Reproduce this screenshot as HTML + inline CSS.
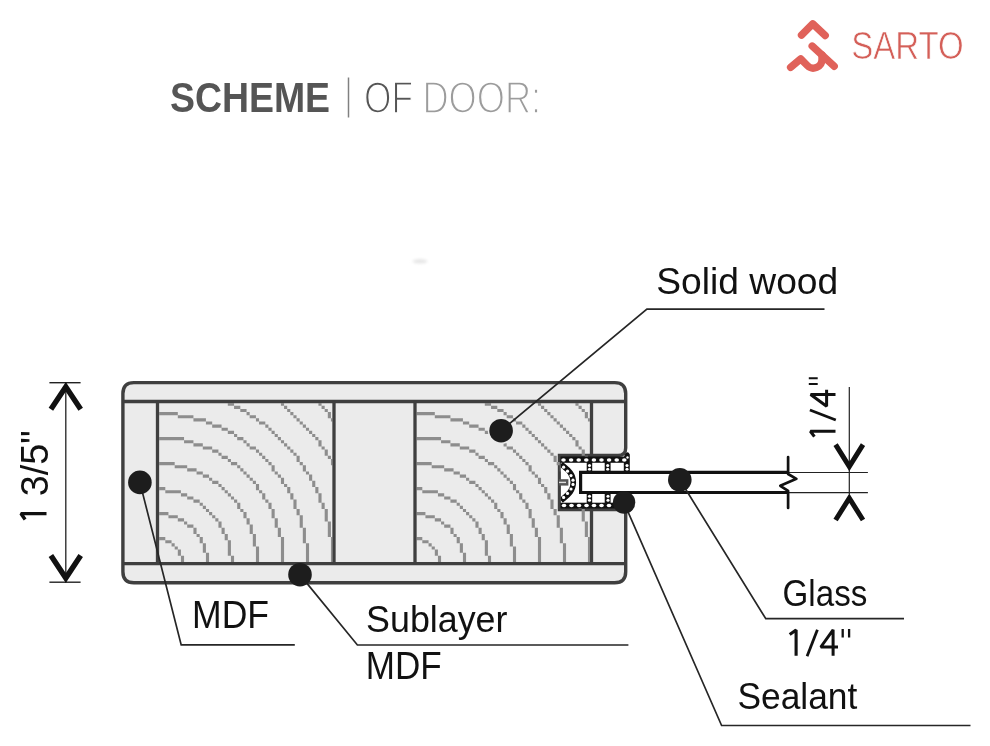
<!DOCTYPE html>
<html><head><meta charset="utf-8"><style>
html,body{margin:0;padding:0;background:#fff;width:990px;height:746px;overflow:hidden;position:relative}
</style></head><body><svg width="990" height="746" viewBox="0 0 990 746" style="position:absolute;left:0;top:0;will-change:transform">
<filter id="bl" x="-50%" y="-50%" width="200%" height="200%"><feGaussianBlur stdDeviation="1.6"/></filter>
<ellipse cx="420" cy="261.3" rx="7.5" ry="2" fill="#e4e4e4" filter="url(#bl)"/>
<text transform="matrix(0.37435 0 0 0.42113 169.977 111.579)" font-family="&quot;Liberation Sans&quot;, sans-serif" font-weight="bold" font-size="100" fill="#555">SCHEME</text>
<line x1="348.5" y1="77.5" x2="348.5" y2="117.5" stroke="#808080" stroke-width="1.5"/>
<text transform="matrix(0.35317 0 0 0.44328 364.028 112.843)" font-family="&quot;Liberation Sans&quot;, sans-serif" font-weight="normal" font-size="100" fill="#555" stroke="#fff" stroke-width="3.5">OF</text><text transform="matrix(0.36254 0 0 0.44328 422.375 112.843)" font-family="&quot;Liberation Sans&quot;, sans-serif" font-weight="normal" font-size="100" fill="#9c9c9c" stroke="#fff" stroke-width="3.5">DOOR:</text>
<g fill="none" stroke="#e0625a" stroke-width="7.4" stroke-linecap="round" stroke-linejoin="round">
<path d="M801.5 35.1 L812.7 23.8 L825.2 35.5"/>
<path d="M790.6 67.3 L800.7 58.8 L807.3 65.5 A8.6 8.6 0 0 0 822 59.5 L822 55"/>
<path d="M812.2 46.1 L834.2 66.25"/>
</g>
<text transform="matrix(0.33009 0 0 0.38986 851.219 58.900)" font-family="&quot;Liberation Sans&quot;, sans-serif" font-weight="normal" font-size="100" fill="#d45f58" stroke="#fff" stroke-width="1.8">SARTO</text>

<path d="M133.9 382.6 H614.7 Q625.7 382.6 625.7 393.6 V448 Q625.7 455.5 618 455.5 H559.5 V509.5 H625.7 V571.7 Q625.7 582.7 614.7 582.7 H133.9 Q122.9 582.7 122.9 571.7 V393.6 Q122.9 382.6 133.9 382.6 Z" fill="#ebebeb" stroke="#3f3f3f" stroke-width="3.4"/>
<path fill="#8d8d8d" d="M212.19 480.79h3.12v3.12h-3.12zM212.19 424.54h3.12v3.12h-3.12zM174.69 412.04h3.12v3.12h-3.12zM293.44 499.54h3.12v3.12h-3.12zM330.94 552.66h1.36v3.12h-1.36zM318.44 403.20h3.12v2.59h-3.12zM162.19 462.04h3.12v3.12h-3.12zM293.44 415.16h3.12v3.12h-3.12zM262.19 496.41h3.12v3.12h-3.12zM271.56 508.91h3.12v3.12h-3.12zM299.69 521.41h3.12v3.12h-3.12zM177.81 552.66h3.12v3.12h-3.12zM280.94 477.66h3.12v3.12h-3.12zM234.06 499.54h3.12v3.12h-3.12zM330.94 540.16h1.36v3.12h-1.36zM296.56 512.04h3.12v3.12h-3.12zM224.69 490.16h3.12v3.12h-3.12zM199.69 502.66h3.12v3.12h-3.12zM271.56 468.29h3.12v3.12h-3.12zM327.81 415.16h3.12v3.12h-3.12zM268.44 427.66h3.12v3.12h-3.12zM243.44 440.16h3.12v3.12h-3.12zM246.56 521.41h3.12v3.12h-3.12zM293.44 502.66h3.12v3.12h-3.12zM330.94 555.79h1.36v3.12h-1.36zM224.69 533.91h3.12v3.12h-3.12zM162.19 437.04h3.12v3.12h-3.12zM271.56 512.04h3.12v3.12h-3.12zM196.56 418.29h3.12v3.12h-3.12zM165.31 490.16h3.12v3.12h-3.12zM202.81 543.29h3.12v3.12h-3.12zM305.94 552.66h3.12v3.12h-3.12zM280.94 537.04h3.12v3.12h-3.12zM184.06 440.16h3.12v3.12h-3.12zM174.69 515.16h3.12v3.12h-3.12zM280.94 480.79h3.12v3.12h-3.12zM187.19 524.54h3.12v3.12h-3.12zM162.19 537.04h3.12v3.12h-3.12zM187.19 496.41h3.12v3.12h-3.12zM259.06 490.16h3.12v3.12h-3.12zM187.19 468.29h3.12v3.12h-3.12zM187.19 440.16h3.12v3.12h-3.12zM330.94 543.29h1.36v3.12h-1.36zM315.31 437.04h3.12v3.12h-3.12zM255.94 449.54h3.12v3.12h-3.12zM290.31 449.54h3.12v3.12h-3.12zM230.94 462.04h3.12v3.12h-3.12zM327.81 530.79h3.12v3.12h-3.12zM205.94 446.41h3.12v3.12h-3.12zM159.20 412.04h2.99v3.12h-2.99zM243.44 471.41h3.12v3.12h-3.12zM280.94 552.66h3.12v3.12h-3.12zM293.44 505.79h3.12v3.12h-3.12zM290.31 493.29h3.12v3.12h-3.12zM224.69 537.04h3.12v3.12h-3.12zM302.81 530.79h3.12v3.12h-3.12zM268.44 502.66h3.12v3.12h-3.12zM243.44 515.16h3.12v3.12h-3.12zM305.94 555.79h3.12v3.12h-3.12zM171.56 437.04h3.12v3.12h-3.12zM174.69 546.41h3.12v3.12h-3.12zM280.94 540.16h3.12v3.12h-3.12zM184.06 415.16h3.12v3.12h-3.12zM174.69 490.16h3.12v3.12h-3.12zM324.69 449.54h3.12v3.12h-3.12zM162.19 512.04h3.12v3.12h-3.12zM327.81 533.91h3.12v3.12h-3.12zM205.94 421.41h3.12v3.12h-3.12zM268.44 462.04h3.12v3.12h-3.12zM305.94 543.29h3.12v3.12h-3.12zM209.06 446.41h3.12v3.12h-3.12zM280.94 555.79h3.12v3.12h-3.12zM255.94 552.66h3.12v3.12h-3.12zM252.81 415.16h3.12v3.12h-3.12zM324.69 408.91h3.12v3.12h-3.12zM290.31 496.41h3.12v3.12h-3.12zM168.44 412.04h3.12v3.12h-3.12zM159.20 487.04h2.99v3.12h-2.99zM327.81 521.41h3.12v3.12h-3.12zM265.31 424.54h3.12v3.12h-3.12zM302.81 533.91h3.12v3.12h-3.12zM268.44 505.79h3.12v3.12h-3.12zM305.94 558.91h3.12v2.99h-3.12zM280.94 543.29h3.12v3.12h-3.12zM277.81 530.79h3.12v3.12h-3.12zM324.69 508.91h3.12v3.12h-3.12zM277.81 474.54h3.12v3.12h-3.12zM193.44 499.54h3.12v3.12h-3.12zM324.69 452.66h3.12v3.12h-3.12zM193.44 443.29h3.12v3.12h-3.12zM255.94 483.91h3.12v3.12h-3.12zM230.94 496.41h3.12v3.12h-3.12zM205.94 508.91h3.12v3.12h-3.12zM299.69 421.41h3.12v3.12h-3.12zM274.69 433.91h3.12v3.12h-3.12zM249.69 477.66h3.12v3.12h-3.12zM240.31 437.04h3.12v3.12h-3.12zM215.31 449.54h3.12v3.12h-3.12zM240.31 408.91h3.12v3.12h-3.12zM227.81 543.29h3.12v3.12h-3.12zM252.81 446.41h3.12v3.12h-3.12zM255.94 555.79h3.12v3.12h-3.12zM227.81 458.91h3.12v3.12h-3.12zM227.81 430.79h3.12v3.12h-3.12zM205.94 552.66h3.12v3.12h-3.12zM159.20 462.04h2.99v3.12h-2.99zM309.06 477.66h3.12v3.12h-3.12zM240.31 508.91h3.12v3.12h-3.12zM180.94 493.29h3.12v3.12h-3.12zM287.19 487.04h3.12v3.12h-3.12zM180.94 465.16h3.12v3.12h-3.12zM277.81 533.91h3.12v3.12h-3.12zM180.94 437.04h3.12v3.12h-3.12zM324.69 512.04h3.12v3.12h-3.12zM193.44 530.79h3.12v3.12h-3.12zM168.44 515.16h3.12v3.12h-3.12zM230.94 555.79h3.12v3.12h-3.12zM262.19 455.79h3.12v3.12h-3.12zM296.56 455.79h3.12v3.12h-3.12zM199.69 418.29h3.12v3.12h-3.12zM274.69 521.41h3.12v3.12h-3.12zM171.56 543.29h3.12v3.12h-3.12zM240.31 468.29h3.12v3.12h-3.12zM215.31 480.79h3.12v3.12h-3.12zM215.31 424.54h3.12v3.12h-3.12zM252.81 533.91h3.12v3.12h-3.12zM227.81 546.41h3.12v3.12h-3.12zM284.06 405.79h3.12v3.12h-3.12zM255.94 558.91h3.12v2.99h-3.12zM205.94 555.79h3.12v3.12h-3.12zM165.31 462.04h3.12v3.12h-3.12zM299.69 524.54h3.12v3.12h-3.12zM177.81 415.16h3.12v3.12h-3.12zM249.69 524.54h3.12v3.12h-3.12zM287.19 490.16h3.12v3.12h-3.12zM218.44 521.41h3.12v3.12h-3.12zM321.56 502.66h3.12v3.12h-3.12zM321.56 446.41h3.12v3.12h-3.12zM296.56 458.91h3.12v3.12h-3.12zM330.94 458.91h1.36v3.12h-1.36zM274.69 524.54h3.12v3.12h-3.12zM237.19 502.66h3.12v3.12h-3.12zM212.19 515.16h3.12v3.12h-3.12zM202.81 474.54h3.12v3.12h-3.12zM202.81 446.41h3.12v3.12h-3.12zM305.94 427.66h3.12v3.12h-3.12zM280.94 440.16h3.12v3.12h-3.12zM190.31 524.54h3.12v3.12h-3.12zM246.56 412.04h3.12v3.12h-3.12zM190.31 496.41h3.12v3.12h-3.12zM318.44 493.29h3.12v3.12h-3.12zM190.31 468.29h3.12v3.12h-3.12zM227.81 549.54h3.12v3.12h-3.12zM330.94 558.91h1.36v2.99h-1.36zM234.06 462.04h3.12v3.12h-3.12zM259.06 421.41h3.12v3.12h-3.12zM234.06 433.91h3.12v3.12h-3.12zM162.19 412.04h3.12v3.12h-3.12zM271.56 515.16h3.12v3.12h-3.12zM234.06 405.79h3.12v3.12h-3.12zM165.31 437.04h3.12v3.12h-3.12zM202.81 546.41h3.12v3.12h-3.12zM271.56 430.79h3.12v3.12h-3.12zM305.94 471.41h3.12v3.12h-3.12zM180.94 555.79h3.12v3.12h-3.12zM249.69 527.66h3.12v3.12h-3.12zM330.94 546.41h1.36v3.12h-1.36zM321.56 505.79h3.12v3.12h-3.12zM187.19 415.16h3.12v3.12h-3.12zM199.69 537.04h3.12v3.12h-3.12zM330.94 462.04h1.36v3.12h-1.36zM202.81 505.79h3.12v3.12h-3.12zM237.19 505.79h3.12v3.12h-3.12zM177.81 518.29h3.12v3.12h-3.12zM177.81 490.16h3.12v3.12h-3.12zM246.56 443.29h3.12v3.12h-3.12zM221.56 455.79h3.12v3.12h-3.12zM221.56 427.66h3.12v3.12h-3.12zM318.44 496.41h3.12v3.12h-3.12zM318.44 440.16h3.12v3.12h-3.12zM259.06 452.66h3.12v3.12h-3.12zM293.44 452.66h3.12v3.12h-3.12zM290.31 412.04h3.12v3.12h-3.12zM202.81 549.54h3.12v3.12h-3.12zM171.56 412.04h3.12v3.12h-3.12zM221.56 527.66h3.12v3.12h-3.12zM174.69 465.16h3.12v3.12h-3.12zM174.69 437.04h3.12v3.12h-3.12zM280.94 403.20h3.12v2.59h-3.12zM284.06 483.91h3.12v3.12h-3.12zM162.19 487.04h3.12v3.12h-3.12zM330.94 549.54h1.36v3.12h-1.36zM165.31 540.16h3.12v3.12h-3.12zM199.69 540.16h3.12v3.12h-3.12zM165.31 512.04h3.12v3.12h-3.12zM302.81 465.16h3.12v3.12h-3.12zM209.06 477.66h3.12v3.12h-3.12zM177.81 549.54h3.12v3.12h-3.12zM305.94 546.41h3.12v3.12h-3.12zM280.94 558.91h3.12v2.99h-3.12zM209.06 421.41h3.12v3.12h-3.12zM246.56 474.54h3.12v3.12h-3.12zM221.56 487.04h3.12v3.12h-3.12zM318.44 499.54h3.12v3.12h-3.12zM315.31 487.04h3.12v3.12h-3.12zM227.81 403.20h3.12v2.59h-3.12zM327.81 524.54h3.12v3.12h-3.12zM302.81 537.04h3.12v3.12h-3.12zM327.81 412.04h3.12v3.12h-3.12zM302.81 424.54h3.12v3.12h-3.12zM280.94 546.41h3.12v3.12h-3.12zM243.44 408.91h3.12v3.12h-3.12zM246.56 518.29h3.12v3.12h-3.12zM221.56 530.79h3.12v3.12h-3.12zM193.44 418.29h3.12v3.12h-3.12zM255.94 487.04h3.12v3.12h-3.12zM196.56 499.54h3.12v3.12h-3.12zM265.31 499.54h3.12v3.12h-3.12zM196.56 471.41h3.12v3.12h-3.12zM196.56 443.29h3.12v3.12h-3.12zM327.81 455.79h3.12v3.12h-3.12zM171.56 515.16h3.12v3.12h-3.12zM302.81 468.29h3.12v3.12h-3.12zM184.06 521.41h3.12v3.12h-3.12zM184.06 493.29h3.12v3.12h-3.12zM305.94 549.54h3.12v3.12h-3.12zM184.06 465.16h3.12v3.12h-3.12zM312.19 433.91h3.12v3.12h-3.12zM287.19 446.41h3.12v3.12h-3.12zM277.81 437.04h3.12v3.12h-3.12zM315.31 490.16h3.12v3.12h-3.12zM265.31 458.91h3.12v3.12h-3.12zM255.94 418.29h3.12v3.12h-3.12zM327.81 527.66h3.12v3.12h-3.12zM159.20 437.04h2.99v3.12h-2.99zM230.94 430.79h3.12v3.12h-3.12zM302.81 540.16h3.12v3.12h-3.12zM230.94 403.20h3.12v2.59h-3.12zM280.94 549.54h3.12v3.12h-3.12zM324.69 515.16h3.12v3.12h-3.12zM168.44 490.16h3.12v3.12h-3.12zM255.94 546.41h3.12v3.12h-3.12zM230.94 558.91h3.12v2.99h-3.12zM168.44 462.04h3.12v3.12h-3.12zM159.20 537.04h2.99v3.12h-2.99zM302.81 527.66h3.12v3.12h-3.12zM209.06 512.04h3.12v3.12h-3.12zM243.44 512.04h3.12v3.12h-3.12zM202.81 418.29h3.12v3.12h-3.12zM171.56 490.16h3.12v3.12h-3.12zM171.56 462.04h3.12v3.12h-3.12zM252.81 537.04h3.12v3.12h-3.12zM190.31 440.16h3.12v3.12h-3.12zM252.81 480.79h3.12v3.12h-3.12zM227.81 493.29h3.12v3.12h-3.12zM218.44 452.66h3.12v3.12h-3.12zM218.44 424.54h3.12v3.12h-3.12zM205.94 558.91h3.12v2.99h-3.12zM321.56 405.79h3.12v3.12h-3.12zM296.56 418.29h3.12v3.12h-3.12zM330.94 418.29h1.36v3.12h-1.36zM205.94 474.54h3.12v3.12h-3.12zM237.19 405.79h3.12v3.12h-3.12zM312.19 480.79h3.12v3.12h-3.12zM180.94 415.16h3.12v3.12h-3.12zM218.44 524.54h3.12v3.12h-3.12zM249.69 415.16h3.12v3.12h-3.12zM324.69 518.29h3.12v3.12h-3.12zM287.19 408.91h3.12v3.12h-3.12zM255.94 549.54h3.12v3.12h-3.12zM196.56 533.91h3.12v3.12h-3.12zM168.44 437.04h3.12v3.12h-3.12zM159.20 512.04h2.99v3.12h-2.99zM299.69 515.16h3.12v3.12h-3.12zM274.69 471.41h3.12v3.12h-3.12zM277.81 527.66h3.12v3.12h-3.12zM252.81 540.16h3.12v3.12h-3.12zM227.81 552.66h3.12v3.12h-3.12zM190.31 415.16h3.12v3.12h-3.12zM218.44 483.91h3.12v3.12h-3.12zM193.44 468.29h3.12v3.12h-3.12zM224.69 455.79h3.12v3.12h-3.12zM224.69 427.66h3.12v3.12h-3.12zM262.19 421.41h3.12v3.12h-3.12zM165.31 412.04h3.12v3.12h-3.12zM237.19 465.16h3.12v3.12h-3.12zM237.19 437.04h3.12v3.12h-3.12zM309.06 430.79h3.12v3.12h-3.12zM212.19 449.54h3.12v3.12h-3.12zM180.94 558.91h3.12v2.99h-3.12zM249.69 530.79h3.12v3.12h-3.12zM312.19 483.91h3.12v3.12h-3.12zM249.69 446.41h3.12v3.12h-3.12zM227.81 540.16h3.12v3.12h-3.12zM262.19 493.29h3.12v3.12h-3.12zM299.69 518.29h3.12v3.12h-3.12zM299.69 462.04h3.12v3.12h-3.12zM309.06 474.54h3.12v3.12h-3.12zM177.81 465.16h3.12v3.12h-3.12zM177.81 437.04h3.12v3.12h-3.12zM180.94 518.29h3.12v3.12h-3.12zM215.31 518.29h3.12v3.12h-3.12zM252.81 543.29h3.12v3.12h-3.12zM284.06 443.29h3.12v3.12h-3.12zM318.44 443.29h3.12v3.12h-3.12zM193.44 527.66h3.12v3.12h-3.12zM168.44 540.16h3.12v3.12h-3.12zM330.94 537.04h1.36v3.12h-1.36zM296.56 508.91h3.12v3.12h-3.12zM199.69 471.41h3.12v3.12h-3.12zM271.56 465.16h3.12v3.12h-3.12zM199.69 443.29h3.12v3.12h-3.12zM274.69 518.29h3.12v3.12h-3.12z"/>
<path fill="#8d8d8d" d="M469.19 480.79h3.12v3.12h-3.12zM469.19 424.54h3.12v3.12h-3.12zM431.69 412.04h3.12v3.12h-3.12zM550.44 499.54h3.12v3.12h-3.12zM587.94 552.66h1.86v3.12h-1.86zM575.44 403.20h3.12v2.59h-3.12zM419.19 462.04h3.12v3.12h-3.12zM550.44 415.16h3.12v3.12h-3.12zM519.19 496.41h3.12v3.12h-3.12zM528.56 508.91h3.12v3.12h-3.12zM556.69 521.41h3.12v3.12h-3.12zM434.81 552.66h3.12v3.12h-3.12zM537.94 477.66h3.12v3.12h-3.12zM491.06 499.54h3.12v3.12h-3.12zM587.94 540.16h1.86v3.12h-1.86zM553.56 512.04h3.12v3.12h-3.12zM481.69 490.16h3.12v3.12h-3.12zM456.69 502.66h3.12v3.12h-3.12zM528.56 468.29h3.12v3.12h-3.12zM584.81 415.16h3.12v3.12h-3.12zM525.44 427.66h3.12v3.12h-3.12zM500.44 440.16h3.12v3.12h-3.12zM503.56 521.41h3.12v3.12h-3.12zM550.44 502.66h3.12v3.12h-3.12zM587.94 555.79h1.86v3.12h-1.86zM481.69 533.91h3.12v3.12h-3.12zM419.19 437.04h3.12v3.12h-3.12zM528.56 512.04h3.12v3.12h-3.12zM453.56 418.29h3.12v3.12h-3.12zM422.31 490.16h3.12v3.12h-3.12zM459.81 543.29h3.12v3.12h-3.12zM562.94 552.66h3.12v3.12h-3.12zM537.94 537.04h3.12v3.12h-3.12zM441.06 440.16h3.12v3.12h-3.12zM431.69 515.16h3.12v3.12h-3.12zM537.94 480.79h3.12v3.12h-3.12zM444.19 524.54h3.12v3.12h-3.12zM419.19 537.04h3.12v3.12h-3.12zM444.19 496.41h3.12v3.12h-3.12zM516.06 490.16h3.12v3.12h-3.12zM444.19 468.29h3.12v3.12h-3.12zM444.19 440.16h3.12v3.12h-3.12zM587.94 543.29h1.86v3.12h-1.86zM572.31 437.04h3.12v3.12h-3.12zM512.94 449.54h3.12v3.12h-3.12zM547.31 449.54h3.12v3.12h-3.12zM487.94 462.04h3.12v3.12h-3.12zM584.81 530.79h3.12v3.12h-3.12zM462.94 446.41h3.12v3.12h-3.12zM416.70 412.04h2.49v3.12h-2.49zM500.44 471.41h3.12v3.12h-3.12zM537.94 552.66h3.12v3.12h-3.12zM550.44 505.79h3.12v3.12h-3.12zM547.31 493.29h3.12v3.12h-3.12zM481.69 537.04h3.12v3.12h-3.12zM559.81 530.79h3.12v3.12h-3.12zM525.44 502.66h3.12v3.12h-3.12zM500.44 515.16h3.12v3.12h-3.12zM562.94 555.79h3.12v3.12h-3.12zM428.56 437.04h3.12v3.12h-3.12zM431.69 546.41h3.12v3.12h-3.12zM537.94 540.16h3.12v3.12h-3.12zM441.06 415.16h3.12v3.12h-3.12zM431.69 490.16h3.12v3.12h-3.12zM581.69 449.54h3.12v3.12h-3.12zM419.19 512.04h3.12v3.12h-3.12zM584.81 533.91h3.12v3.12h-3.12zM462.94 421.41h3.12v3.12h-3.12zM525.44 462.04h3.12v3.12h-3.12zM562.94 543.29h3.12v3.12h-3.12zM466.06 446.41h3.12v3.12h-3.12zM537.94 555.79h3.12v3.12h-3.12zM512.94 552.66h3.12v3.12h-3.12zM509.81 415.16h3.12v3.12h-3.12zM581.69 408.91h3.12v3.12h-3.12zM547.31 496.41h3.12v3.12h-3.12zM425.44 412.04h3.12v3.12h-3.12zM416.70 487.04h2.49v3.12h-2.49zM584.81 521.41h3.12v3.12h-3.12zM522.31 424.54h3.12v3.12h-3.12zM559.81 533.91h3.12v3.12h-3.12zM525.44 505.79h3.12v3.12h-3.12zM562.94 558.91h3.12v2.99h-3.12zM537.94 543.29h3.12v3.12h-3.12zM534.81 530.79h3.12v3.12h-3.12zM581.69 508.91h3.12v3.12h-3.12zM534.81 474.54h3.12v3.12h-3.12zM450.44 499.54h3.12v3.12h-3.12zM581.69 452.66h3.12v3.12h-3.12zM450.44 443.29h3.12v3.12h-3.12zM512.94 483.91h3.12v3.12h-3.12zM487.94 496.41h3.12v3.12h-3.12zM462.94 508.91h3.12v3.12h-3.12zM556.69 421.41h3.12v3.12h-3.12zM531.69 433.91h3.12v3.12h-3.12zM506.69 477.66h3.12v3.12h-3.12zM497.31 437.04h3.12v3.12h-3.12zM472.31 449.54h3.12v3.12h-3.12zM497.31 408.91h3.12v3.12h-3.12zM484.81 543.29h3.12v3.12h-3.12zM509.81 446.41h3.12v3.12h-3.12zM512.94 555.79h3.12v3.12h-3.12zM484.81 458.91h3.12v3.12h-3.12zM484.81 430.79h3.12v3.12h-3.12zM462.94 552.66h3.12v3.12h-3.12zM416.70 462.04h2.49v3.12h-2.49zM566.06 477.66h3.12v3.12h-3.12zM497.31 508.91h3.12v3.12h-3.12zM437.94 493.29h3.12v3.12h-3.12zM544.19 487.04h3.12v3.12h-3.12zM437.94 465.16h3.12v3.12h-3.12zM534.81 533.91h3.12v3.12h-3.12zM437.94 437.04h3.12v3.12h-3.12zM581.69 512.04h3.12v3.12h-3.12zM450.44 530.79h3.12v3.12h-3.12zM425.44 515.16h3.12v3.12h-3.12zM487.94 555.79h3.12v3.12h-3.12zM519.19 455.79h3.12v3.12h-3.12zM553.56 455.79h3.12v3.12h-3.12zM456.69 418.29h3.12v3.12h-3.12zM531.69 521.41h3.12v3.12h-3.12zM428.56 543.29h3.12v3.12h-3.12zM497.31 468.29h3.12v3.12h-3.12zM472.31 480.79h3.12v3.12h-3.12zM472.31 424.54h3.12v3.12h-3.12zM509.81 533.91h3.12v3.12h-3.12zM484.81 546.41h3.12v3.12h-3.12zM541.06 405.79h3.12v3.12h-3.12zM512.94 558.91h3.12v2.99h-3.12zM462.94 555.79h3.12v3.12h-3.12zM422.31 462.04h3.12v3.12h-3.12zM556.69 524.54h3.12v3.12h-3.12zM434.81 415.16h3.12v3.12h-3.12zM506.69 524.54h3.12v3.12h-3.12zM544.19 490.16h3.12v3.12h-3.12zM475.44 521.41h3.12v3.12h-3.12zM578.56 502.66h3.12v3.12h-3.12zM578.56 446.41h3.12v3.12h-3.12zM553.56 458.91h3.12v3.12h-3.12zM587.94 458.91h1.86v3.12h-1.86zM531.69 524.54h3.12v3.12h-3.12zM494.19 502.66h3.12v3.12h-3.12zM469.19 515.16h3.12v3.12h-3.12zM459.81 474.54h3.12v3.12h-3.12zM459.81 446.41h3.12v3.12h-3.12zM562.94 427.66h3.12v3.12h-3.12zM537.94 440.16h3.12v3.12h-3.12zM447.31 524.54h3.12v3.12h-3.12zM503.56 412.04h3.12v3.12h-3.12zM447.31 496.41h3.12v3.12h-3.12zM575.44 493.29h3.12v3.12h-3.12zM447.31 468.29h3.12v3.12h-3.12zM484.81 549.54h3.12v3.12h-3.12zM587.94 558.91h1.86v2.99h-1.86zM491.06 462.04h3.12v3.12h-3.12zM516.06 421.41h3.12v3.12h-3.12zM491.06 433.91h3.12v3.12h-3.12zM419.19 412.04h3.12v3.12h-3.12zM528.56 515.16h3.12v3.12h-3.12zM491.06 405.79h3.12v3.12h-3.12zM422.31 437.04h3.12v3.12h-3.12zM459.81 546.41h3.12v3.12h-3.12zM528.56 430.79h3.12v3.12h-3.12zM562.94 471.41h3.12v3.12h-3.12zM437.94 555.79h3.12v3.12h-3.12zM506.69 527.66h3.12v3.12h-3.12zM587.94 546.41h1.86v3.12h-1.86zM578.56 505.79h3.12v3.12h-3.12zM444.19 415.16h3.12v3.12h-3.12zM456.69 537.04h3.12v3.12h-3.12zM587.94 462.04h1.86v3.12h-1.86zM459.81 505.79h3.12v3.12h-3.12zM494.19 505.79h3.12v3.12h-3.12zM434.81 518.29h3.12v3.12h-3.12zM434.81 490.16h3.12v3.12h-3.12zM503.56 443.29h3.12v3.12h-3.12zM478.56 455.79h3.12v3.12h-3.12zM478.56 427.66h3.12v3.12h-3.12zM575.44 496.41h3.12v3.12h-3.12zM575.44 440.16h3.12v3.12h-3.12zM516.06 452.66h3.12v3.12h-3.12zM550.44 452.66h3.12v3.12h-3.12zM547.31 412.04h3.12v3.12h-3.12zM459.81 549.54h3.12v3.12h-3.12zM428.56 412.04h3.12v3.12h-3.12zM478.56 527.66h3.12v3.12h-3.12zM431.69 465.16h3.12v3.12h-3.12zM431.69 437.04h3.12v3.12h-3.12zM537.94 403.20h3.12v2.59h-3.12zM541.06 483.91h3.12v3.12h-3.12zM419.19 487.04h3.12v3.12h-3.12zM587.94 549.54h1.86v3.12h-1.86zM422.31 540.16h3.12v3.12h-3.12zM456.69 540.16h3.12v3.12h-3.12zM422.31 512.04h3.12v3.12h-3.12zM559.81 465.16h3.12v3.12h-3.12zM466.06 477.66h3.12v3.12h-3.12zM434.81 549.54h3.12v3.12h-3.12zM562.94 546.41h3.12v3.12h-3.12zM537.94 558.91h3.12v2.99h-3.12zM466.06 421.41h3.12v3.12h-3.12zM503.56 474.54h3.12v3.12h-3.12zM478.56 487.04h3.12v3.12h-3.12zM575.44 499.54h3.12v3.12h-3.12zM572.31 487.04h3.12v3.12h-3.12zM484.81 403.20h3.12v2.59h-3.12zM584.81 524.54h3.12v3.12h-3.12zM559.81 537.04h3.12v3.12h-3.12zM584.81 412.04h3.12v3.12h-3.12zM559.81 424.54h3.12v3.12h-3.12zM537.94 546.41h3.12v3.12h-3.12zM500.44 408.91h3.12v3.12h-3.12zM503.56 518.29h3.12v3.12h-3.12zM478.56 530.79h3.12v3.12h-3.12zM450.44 418.29h3.12v3.12h-3.12zM512.94 487.04h3.12v3.12h-3.12zM453.56 499.54h3.12v3.12h-3.12zM522.31 499.54h3.12v3.12h-3.12zM453.56 471.41h3.12v3.12h-3.12zM453.56 443.29h3.12v3.12h-3.12zM584.81 455.79h3.12v3.12h-3.12zM428.56 515.16h3.12v3.12h-3.12zM559.81 468.29h3.12v3.12h-3.12zM441.06 521.41h3.12v3.12h-3.12zM441.06 493.29h3.12v3.12h-3.12zM562.94 549.54h3.12v3.12h-3.12zM441.06 465.16h3.12v3.12h-3.12zM569.19 433.91h3.12v3.12h-3.12zM544.19 446.41h3.12v3.12h-3.12zM534.81 437.04h3.12v3.12h-3.12zM572.31 490.16h3.12v3.12h-3.12zM522.31 458.91h3.12v3.12h-3.12zM512.94 418.29h3.12v3.12h-3.12zM584.81 527.66h3.12v3.12h-3.12zM416.70 437.04h2.49v3.12h-2.49zM487.94 430.79h3.12v3.12h-3.12zM559.81 540.16h3.12v3.12h-3.12zM487.94 403.20h3.12v2.59h-3.12zM537.94 549.54h3.12v3.12h-3.12zM581.69 515.16h3.12v3.12h-3.12zM425.44 490.16h3.12v3.12h-3.12zM512.94 546.41h3.12v3.12h-3.12zM487.94 558.91h3.12v2.99h-3.12zM425.44 462.04h3.12v3.12h-3.12zM416.70 537.04h2.49v3.12h-2.49zM559.81 527.66h3.12v3.12h-3.12zM466.06 512.04h3.12v3.12h-3.12zM500.44 512.04h3.12v3.12h-3.12zM459.81 418.29h3.12v3.12h-3.12zM428.56 490.16h3.12v3.12h-3.12zM428.56 462.04h3.12v3.12h-3.12zM509.81 537.04h3.12v3.12h-3.12zM447.31 440.16h3.12v3.12h-3.12zM509.81 480.79h3.12v3.12h-3.12zM484.81 493.29h3.12v3.12h-3.12zM475.44 452.66h3.12v3.12h-3.12zM475.44 424.54h3.12v3.12h-3.12zM462.94 558.91h3.12v2.99h-3.12zM578.56 405.79h3.12v3.12h-3.12zM553.56 418.29h3.12v3.12h-3.12zM587.94 418.29h1.86v3.12h-1.86zM462.94 474.54h3.12v3.12h-3.12zM494.19 405.79h3.12v3.12h-3.12zM569.19 480.79h3.12v3.12h-3.12zM437.94 415.16h3.12v3.12h-3.12zM475.44 524.54h3.12v3.12h-3.12zM506.69 415.16h3.12v3.12h-3.12zM581.69 518.29h3.12v3.12h-3.12zM544.19 408.91h3.12v3.12h-3.12zM512.94 549.54h3.12v3.12h-3.12zM453.56 533.91h3.12v3.12h-3.12zM425.44 437.04h3.12v3.12h-3.12zM416.70 512.04h2.49v3.12h-2.49zM556.69 515.16h3.12v3.12h-3.12zM531.69 471.41h3.12v3.12h-3.12zM534.81 527.66h3.12v3.12h-3.12zM509.81 540.16h3.12v3.12h-3.12zM484.81 552.66h3.12v3.12h-3.12zM447.31 415.16h3.12v3.12h-3.12zM475.44 483.91h3.12v3.12h-3.12zM450.44 468.29h3.12v3.12h-3.12zM481.69 455.79h3.12v3.12h-3.12zM481.69 427.66h3.12v3.12h-3.12zM519.19 421.41h3.12v3.12h-3.12zM422.31 412.04h3.12v3.12h-3.12zM494.19 465.16h3.12v3.12h-3.12zM494.19 437.04h3.12v3.12h-3.12zM566.06 430.79h3.12v3.12h-3.12zM469.19 449.54h3.12v3.12h-3.12zM437.94 558.91h3.12v2.99h-3.12zM506.69 530.79h3.12v3.12h-3.12zM569.19 483.91h3.12v3.12h-3.12zM506.69 446.41h3.12v3.12h-3.12zM484.81 540.16h3.12v3.12h-3.12zM519.19 493.29h3.12v3.12h-3.12zM556.69 518.29h3.12v3.12h-3.12zM556.69 462.04h3.12v3.12h-3.12zM566.06 474.54h3.12v3.12h-3.12zM434.81 465.16h3.12v3.12h-3.12zM434.81 437.04h3.12v3.12h-3.12zM437.94 518.29h3.12v3.12h-3.12zM472.31 518.29h3.12v3.12h-3.12zM509.81 543.29h3.12v3.12h-3.12zM541.06 443.29h3.12v3.12h-3.12zM575.44 443.29h3.12v3.12h-3.12zM450.44 527.66h3.12v3.12h-3.12zM425.44 540.16h3.12v3.12h-3.12zM587.94 537.04h1.86v3.12h-1.86zM553.56 508.91h3.12v3.12h-3.12zM456.69 471.41h3.12v3.12h-3.12zM528.56 465.16h3.12v3.12h-3.12zM456.69 443.29h3.12v3.12h-3.12zM531.69 518.29h3.12v3.12h-3.12z"/>
<circle cx="501.1" cy="430.7" r="13.3" fill="#ebebeb"/>
<g stroke="#3f3f3f" stroke-width="3.3">
<line x1="122.9" y1="401.5" x2="625.7" y2="401.5"/>
<line x1="122.9" y1="563.6" x2="625.7" y2="563.6"/>
<line x1="157.5" y1="401.5" x2="157.5" y2="563.5"/>
<line x1="334" y1="401.5" x2="334" y2="563.5"/>
<line x1="415" y1="401.5" x2="415" y2="563.5"/>
<line x1="591.5" y1="401.5" x2="591.5" y2="563.5"/>
</g>
<rect x="589" y="508" width="5" height="2.5" fill="#3f3f3f"/>
<path d="M560.5 456.5 H624 L625.5 453.5 Q628 450.5 629.8 454.5 V508.5 H560.5 Z" fill="#111"/><rect x="560.8" y="462.8" width="25.9" height="39.9" fill="#fff"/><rect x="592.2" y="462.8" width="12.5" height="8.5" fill="#fff"/><rect x="592.2" y="493.3" width="12.5" height="9.4" fill="#fff"/><rect x="610.6" y="462.8" width="13.2" height="8.5" fill="#fff"/><rect x="610.6" y="493.3" width="13.2" height="9.4" fill="#fff"/><clipPath id="sc"><rect x="560.8" y="458" width="26" height="48"/></clipPath><path d="M561 464 C 565.5 468.2, 573.3 472.3, 573.3 482.3 C 573.3 492.3, 565.5 496.4, 561 500.6" fill="none" stroke="#111" stroke-width="5.6" clip-path="url(#sc)"/><circle cx="563.6" cy="467.2" r="1.6" fill="#fff"/><circle cx="567.5" cy="471.2" r="1.6" fill="#fff"/><circle cx="571" cy="475.6" r="1.6" fill="#fff"/><circle cx="573" cy="480.2" r="1.6" fill="#fff"/><circle cx="573" cy="484.4" r="1.6" fill="#fff"/><circle cx="571" cy="489" r="1.6" fill="#fff"/><circle cx="567.5" cy="493.4" r="1.6" fill="#fff"/><circle cx="563.6" cy="497.4" r="1.6" fill="#fff"/><rect x="559" y="479.2" width="9.4" height="6.4" fill="#555"/><rect x="559" y="481.7" width="7" height="1.4" fill="#ddd"/><ellipse cx="563.5" cy="459.9" rx="2.3" ry="1.75" fill="#fff"/><ellipse cx="571.1" cy="459.9" rx="2.3" ry="1.75" fill="#fff"/><ellipse cx="578.7" cy="459.9" rx="2.3" ry="1.75" fill="#fff"/><ellipse cx="586.3" cy="459.9" rx="2.3" ry="1.75" fill="#fff"/><ellipse cx="593.9" cy="459.9" rx="2.3" ry="1.75" fill="#fff"/><ellipse cx="601.5" cy="459.9" rx="2.3" ry="1.75" fill="#fff"/><ellipse cx="609.1" cy="459.9" rx="2.3" ry="1.75" fill="#fff"/><ellipse cx="616.7" cy="459.9" rx="2.3" ry="1.75" fill="#fff"/><ellipse cx="624.3" cy="459.9" rx="2.3" ry="1.75" fill="#fff"/><ellipse cx="564.0" cy="505.6" rx="2.3" ry="1.75" fill="#fff"/><ellipse cx="571.5" cy="505.6" rx="2.3" ry="1.75" fill="#fff"/><ellipse cx="579.0" cy="505.6" rx="2.3" ry="1.75" fill="#fff"/><ellipse cx="586.5" cy="505.6" rx="2.3" ry="1.75" fill="#fff"/><ellipse cx="594.0" cy="505.6" rx="2.3" ry="1.75" fill="#fff"/><ellipse cx="601.5" cy="505.6" rx="2.3" ry="1.75" fill="#fff"/><ellipse cx="609.0" cy="505.6" rx="2.3" ry="1.75" fill="#fff"/><ellipse cx="616.5" cy="505.6" rx="2.3" ry="1.75" fill="#fff"/><circle cx="589.5" cy="465.5" r="1.55" fill="#fff"/><circle cx="589.5" cy="469.2" r="1.55" fill="#fff"/><circle cx="607.7" cy="465.5" r="1.55" fill="#fff"/><circle cx="607.7" cy="469.2" r="1.55" fill="#fff"/><circle cx="627" cy="465.5" r="1.55" fill="#fff"/><circle cx="627" cy="469.2" r="1.55" fill="#fff"/><circle cx="589.5" cy="496.3" r="1.55" fill="#fff"/><circle cx="589.5" cy="500.2" r="1.55" fill="#fff"/><circle cx="608" cy="496.3" r="1.55" fill="#fff"/><circle cx="608" cy="500.2" r="1.55" fill="#fff"/><circle cx="627.5" cy="457.5" r="1.2" fill="#fff"/>
<rect x="580.6" y="472.4" width="210" height="20.1" fill="#fff"/>
<path d="M788.1 472.4 H580.6 V492.5 H788.1" fill="none" stroke="#111" stroke-width="3.2"/>
<line x1="788" y1="472.5" x2="867.9" y2="472.5" stroke="#222" stroke-width="1.2"/>
<line x1="788" y1="492.7" x2="867.9" y2="492.7" stroke="#222" stroke-width="1.2"/>
<g stroke="#111" stroke-width="2.7" fill="none" stroke-linecap="round" stroke-linejoin="round">
<path d="M788.1 457 V474 L796.4 478.8 L780.3 485.8 L788.1 490.9 V508"/>
</g>
<line x1="849.3" y1="387.1" x2="849.3" y2="494" stroke="#222" stroke-width="1.2"/>
<path d="M835.6 444.6 L849.3 466.6 L863 444.6" fill="none" stroke="#111" stroke-width="5"/>
<path d="M835.6 520 L849.3 498.2 L863 520" fill="none" stroke="#111" stroke-width="5"/>
<g fill="none" stroke="#111" stroke-linejoin="bevel" stroke-linecap="butt">
<path d="M814.4 436.6 L810.4 431.3 H835.5" stroke-width="3.1"/>
<path d="M809.9 410 L835.8 420" stroke-width="2.8"/>
<path d="M826.6 389.8 V406.3 L810.6 394.5 H835.5" stroke-width="3"/>
<path d="M808.8 378.3 H817.7 M808.8 384 H817.7" stroke-width="2.1"/>
</g>

<line x1="65.8" y1="382.3" x2="65.8" y2="582.2" stroke="#222" stroke-width="1.3"/>
<line x1="49.4" y1="382.7" x2="80.6" y2="382.7" stroke="#222" stroke-width="1.4"/>
<line x1="49.4" y1="582.2" x2="80.6" y2="582.2" stroke="#222" stroke-width="1.4"/>
<path d="M50.9 409.2 L65.8 386.8 L80.7 409.2" fill="none" stroke="#111" stroke-width="5.4"/>
<path d="M50.9 555.5 L65.8 578 L80.7 555.5" fill="none" stroke="#111" stroke-width="5.4"/>
<text transform="matrix(0 -0.37771 0.38108 0 47.619 496.211)" font-family="&quot;Liberation Sans&quot;, sans-serif" font-weight="normal" font-size="100" fill="#111">3/5&quot;</text>
<path d="M25.1 519.5 L20.9 513.6 H46.5" fill="none" stroke="#111" stroke-width="3.4" stroke-linejoin="bevel"/>

<g fill="none" stroke="#262626" stroke-width="1.7">
<polyline points="501.1,430.7 646.9,309.2 824.5,309.2"/>
<polyline points="139.9,482.4 181.2,644.9 294.8,644.9"/>
<polyline points="299.8,574.6 357.4,645 628.4,645"/>
<polyline points="679.8,479.8 765.8,618.7 904,618.7"/>
<polyline points="624,502.7 721.6,725.5 970.5,725.5"/>
</g>
<circle cx="501.1" cy="430.7" r="11.8" fill="#1d1d1d"/>
<circle cx="139.9" cy="482.4" r="11.8" fill="#1d1d1d"/>
<circle cx="300" cy="574.7" r="11.8" fill="#1d1d1d"/>
<circle cx="679.8" cy="479.8" r="11.8" fill="#1d1d1d"/>
<circle cx="624.1" cy="502.5" r="11.2" fill="#1d1d1d"/>
<text transform="matrix(0.37218 0 0 0.36757 656.239 293.932)" font-family="&quot;Liberation Sans&quot;, sans-serif" font-weight="normal" font-size="100" fill="#111">Solid wood</text><text transform="matrix(0.35561 0 0 0.38551 192.055 627.800)" font-family="&quot;Liberation Sans&quot;, sans-serif" font-weight="normal" font-size="100" fill="#111">MDF</text><text transform="matrix(0.35825 0 0 0.36915 366.109 631.648)" font-family="&quot;Liberation Sans&quot;, sans-serif" font-weight="normal" font-size="100" fill="#111">Sublayer</text><text transform="matrix(0.35073 0 0 0.38841 365.794 679.100)" font-family="&quot;Liberation Sans&quot;, sans-serif" font-weight="normal" font-size="100" fill="#111">MDF</text><text transform="matrix(0.33158 0 0 0.37568 782.542 606.324)" font-family="&quot;Liberation Sans&quot;, sans-serif" font-weight="normal" font-size="100" fill="#111">Glass</text><g fill="none" stroke="#111" stroke-linejoin="bevel" stroke-linecap="butt">
<path d="M789.7 634.6 L796.1 630 V655.8" stroke-width="3.1"/>
<path d="M807.1 656.2 L817.4 629.8" stroke-width="2.8"/>
<path d="M838 647 H820.8 L833.1 629.8 V655.8" stroke-width="3"/>
<path d="M842.7 629 V637.6 M849.1 629 V637.6" stroke-width="2.3"/>
</g><text transform="matrix(0.35359 0 0 0.37838 737.432 708.922)" font-family="&quot;Liberation Sans&quot;, sans-serif" font-weight="normal" font-size="100" fill="#111">Sealant</text>
</svg></body></html>
